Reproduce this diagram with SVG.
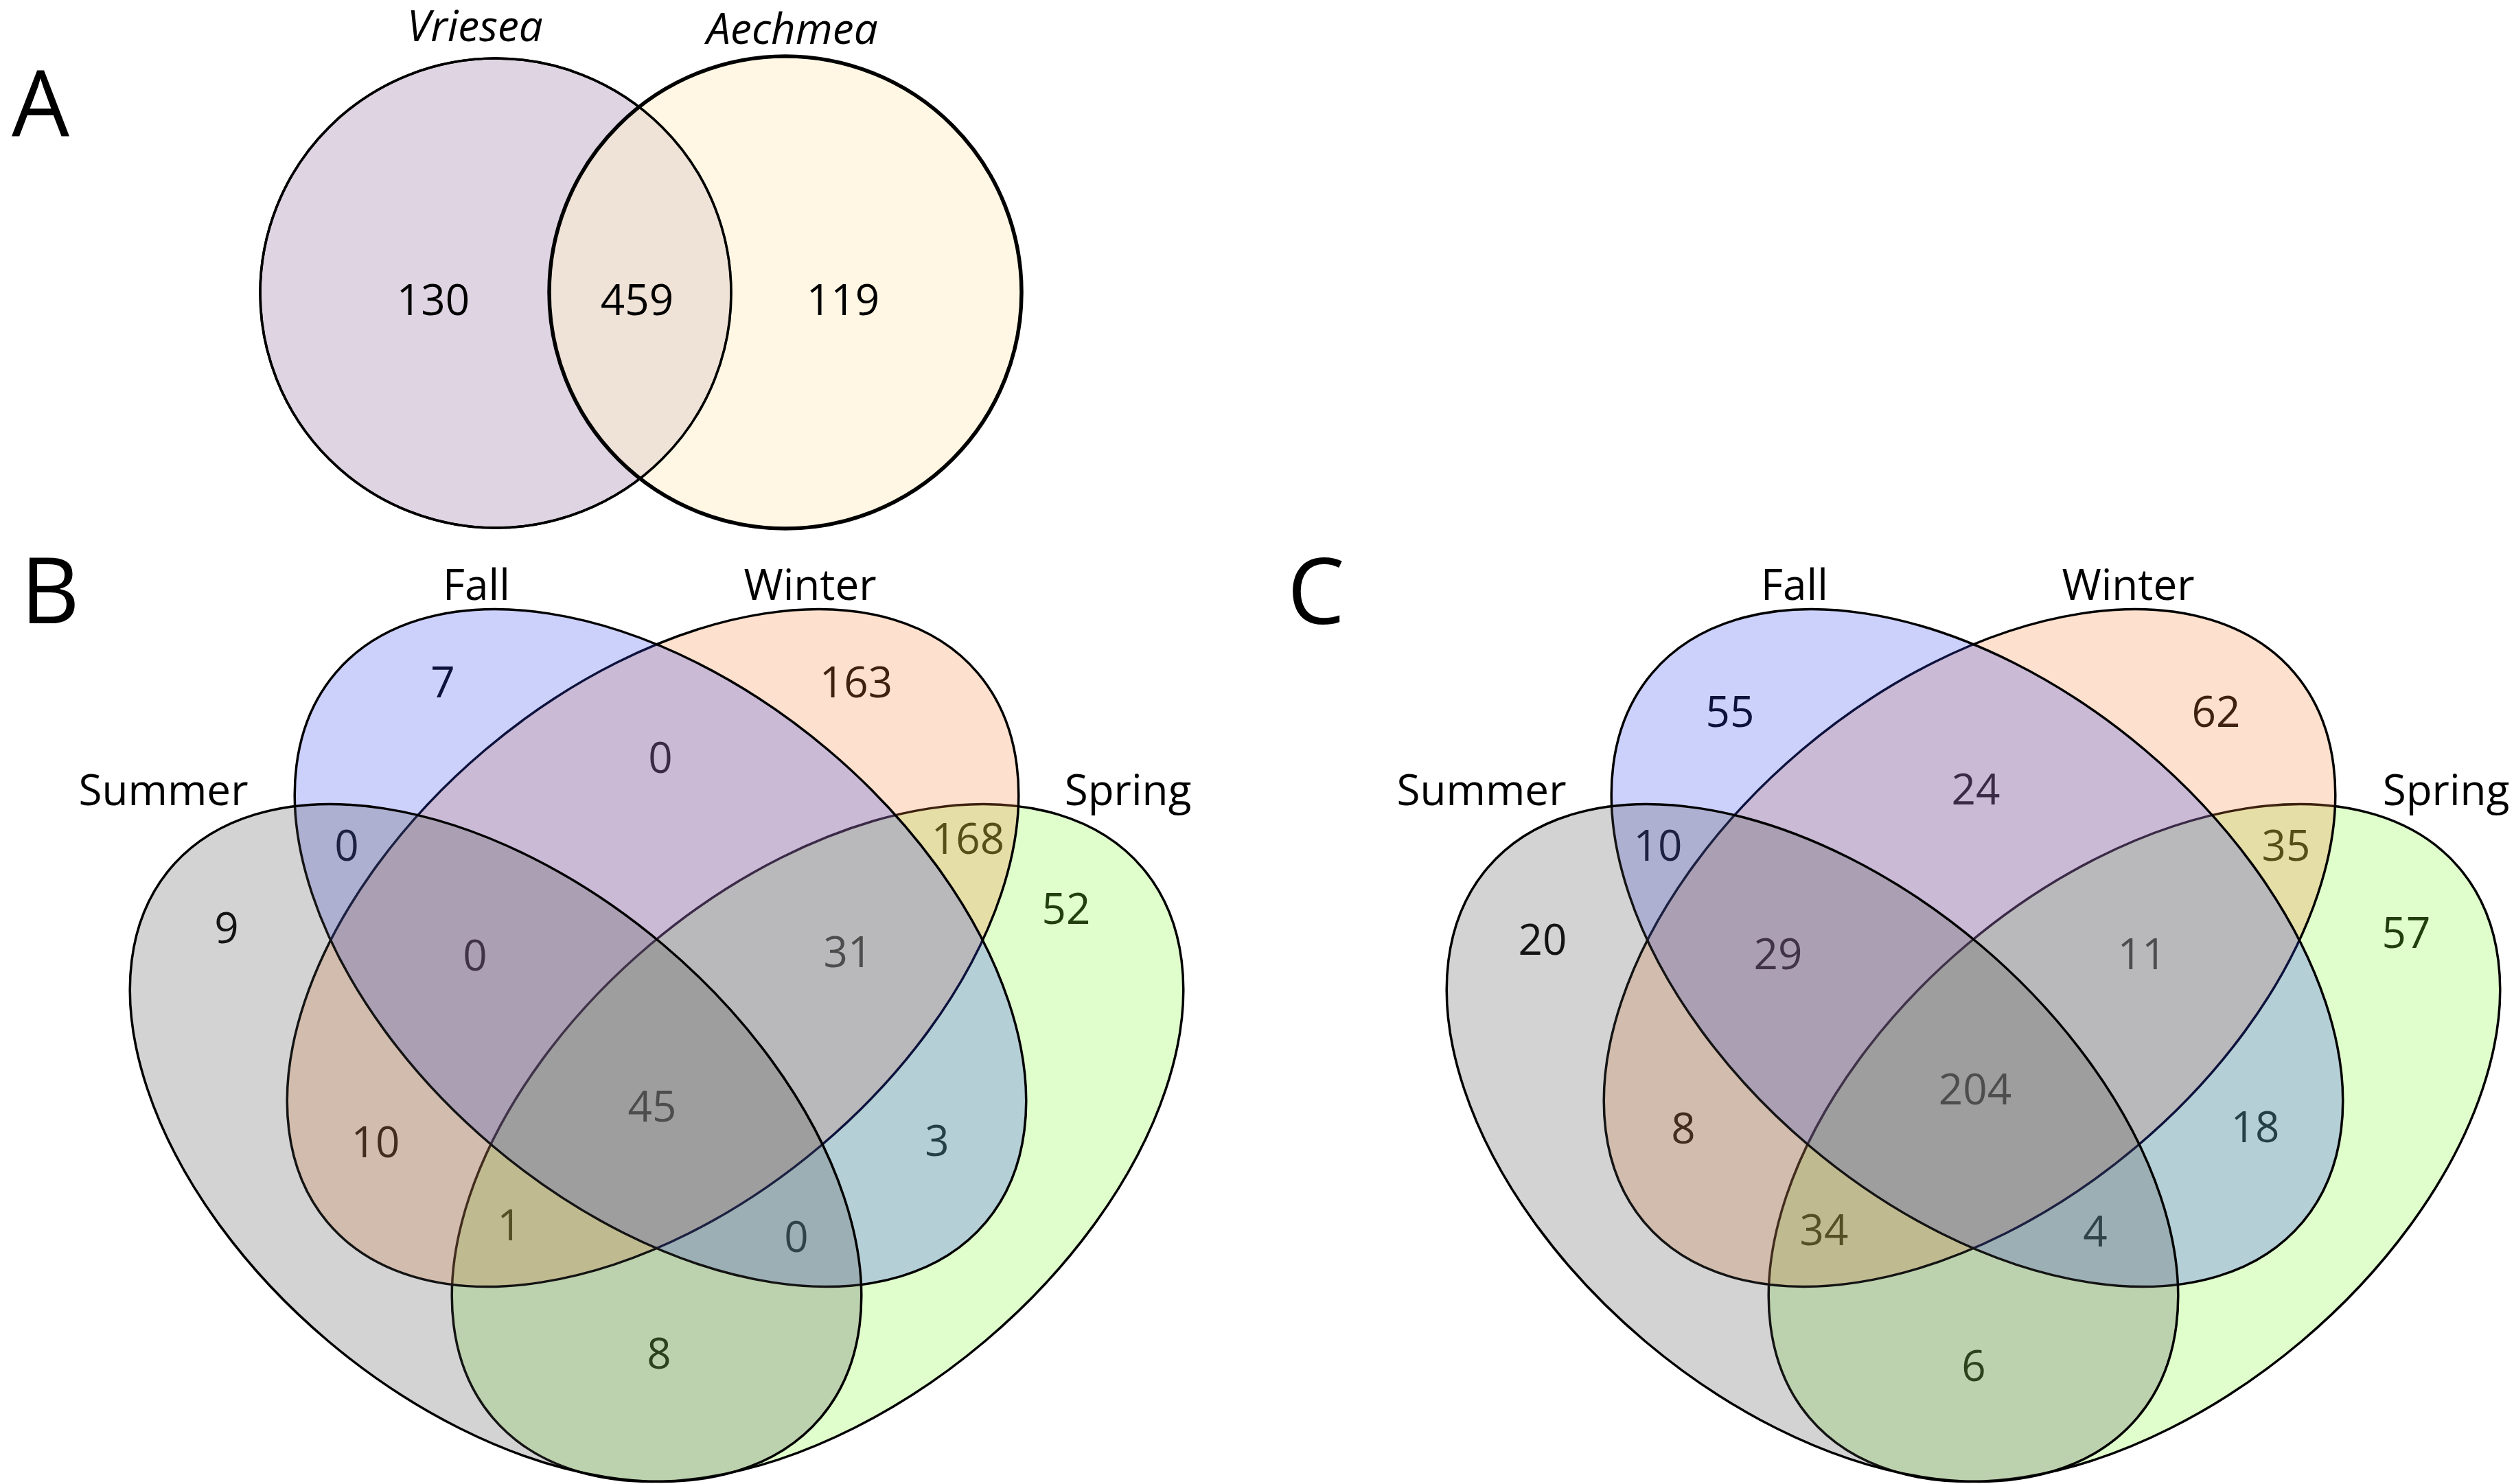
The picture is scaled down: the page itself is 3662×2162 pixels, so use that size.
<svg xmlns="http://www.w3.org/2000/svg" width="3662" height="2162" viewBox="0 0 3662 2162">
<style>
text { font-family: "Open Sans", "Liberation Sans", sans-serif; fill: #000; }
.num { font-size: 62px; text-anchor: middle; }
.lbl { font-size: 62px; text-anchor: middle; }
.it { font-style: italic; }
.panel { font-size: 133px; }
.setA { stroke: #000; fill-opacity: 0.5; }
.set { stroke: #000; stroke-width: 3.5; fill-opacity: 0.25; }
.vri { fill: rgb(189,169,197); }
.aec { fill: rgb(255,239,201); }
.fall { fill: rgb(50,70,243); }
.winter { fill: rgb(247,131,55); }
.summer { fill: rgb(79,79,79); }
.spring { fill: rgb(131,247,51); }
</style>
<rect x="0" y="0" width="3662" height="2162" fill="#fff"/>

<!-- Panel A -->
<g id="panelA">
  <text class="panel" x="17" y="198">A</text>
  <g id="vriesea">
    <ellipse class="setA vri" cx="722" cy="427" rx="343" ry="342" stroke-width="3.5"/>
  </g>
  <g id="aechmea">
    <ellipse class="setA aec" cx="1144" cy="426" rx="344" ry="344" stroke-width="5.5"/>
  </g>
  <ellipse cx="722" cy="427" rx="343" ry="342" fill="none" stroke="#000" stroke-width="3.5"/>
  <text class="lbl it" x="692" y="60">Vriesea</text>
  <text class="lbl it" x="1154" y="64">Aechmea</text>
  <text class="num" x="631" y="459">130</text>
  <text class="num" x="928" y="459">459</text>
  <text class="num" x="1228" y="459">119</text>
</g>

<!-- Panel B -->
<g id="panelB">
  <text class="panel" x="30" y="908">B</text>
  <text class="lbl" x="694" y="874">Fall</text>
  <text class="lbl" x="1180" y="874">Winter</text>
  <text class="lbl" x="238" y="1173">Summer</text>
  <text class="lbl" x="1643" y="1173">Spring</text>
  <g id="countsB">
    <text class="num" x="645" y="1016">7</text>
    <text class="num" x="1247" y="1016">163</text>
    <text class="num" x="962" y="1126">0</text>
    <text class="num" x="505" y="1254">0</text>
    <text class="num" x="1410" y="1244">168</text>
    <text class="num" x="330" y="1374">9</text>
    <text class="num" x="1553" y="1346">52</text>
    <text class="num" x="692" y="1414">0</text>
    <text class="num" x="1235" y="1409">31</text>
    <text class="num" x="950" y="1634">45</text>
    <text class="num" x="547" y="1686">10</text>
    <text class="num" x="1365" y="1684">3</text>
    <text class="num" x="742" y="1807">1</text>
    <text class="num" x="1160" y="1824">0</text>
    <text class="num" x="960" y="1994">8</text>
  </g>
  <g id="springB"><ellipse class="set spring" cx="0" cy="0" rx="620" ry="378" transform="translate(1191 1665) rotate(-40.2)"/></g>
  <g id="winterB"><ellipse class="set winter" cx="0" cy="0" rx="620" ry="378" transform="translate(951 1381) rotate(-40.2)"/></g>
  <g id="fallB"><ellipse class="set fall" cx="0" cy="0" rx="620" ry="378" transform="translate(962 1381) rotate(40.2)"/></g>
  <g id="summerB"><ellipse class="set summer" cx="0" cy="0" rx="620" ry="378" transform="translate(722 1665) rotate(40.2)"/></g>
</g>

<!-- Panel C -->
<g id="panelC">
  <text class="panel" x="1875" y="909">C</text>
  <text class="lbl" x="2614" y="874">Fall</text>
  <text class="lbl" x="3100" y="874">Winter</text>
  <text class="lbl" x="2158" y="1173">Summer</text>
  <text class="lbl" x="3563" y="1173">Spring</text>
  <g id="countsC">
    <text class="num" x="2520" y="1059">55</text>
    <text class="num" x="3228" y="1059">62</text>
    <text class="num" x="2878" y="1172">24</text>
    <text class="num" x="2415" y="1254">10</text>
    <text class="num" x="3330" y="1254">35</text>
    <text class="num" x="2247" y="1391">20</text>
    <text class="num" x="3505" y="1381">57</text>
    <text class="num" x="2590" y="1412">29</text>
    <text class="num" x="3120" y="1412">11</text>
    <text class="num" x="2877" y="1609">204</text>
    <text class="num" x="2452" y="1666">8</text>
    <text class="num" x="3285" y="1664">18</text>
    <text class="num" x="2657" y="1814">34</text>
    <text class="num" x="3052" y="1816">4</text>
    <text class="num" x="2875" y="2012">6</text>
  </g>
  <g id="springC"><ellipse class="set spring" cx="0" cy="0" rx="620" ry="378" transform="translate(3109 1665) rotate(-40.2)"/></g>
  <g id="winterC"><ellipse class="set winter" cx="0" cy="0" rx="620" ry="378" transform="translate(2869 1381) rotate(-40.2)"/></g>
  <g id="fallC"><ellipse class="set fall" cx="0" cy="0" rx="620" ry="378" transform="translate(2880 1381) rotate(40.2)"/></g>
  <g id="summerC"><ellipse class="set summer" cx="0" cy="0" rx="620" ry="378" transform="translate(2640 1665) rotate(40.2)"/></g>
</g>
</svg>
